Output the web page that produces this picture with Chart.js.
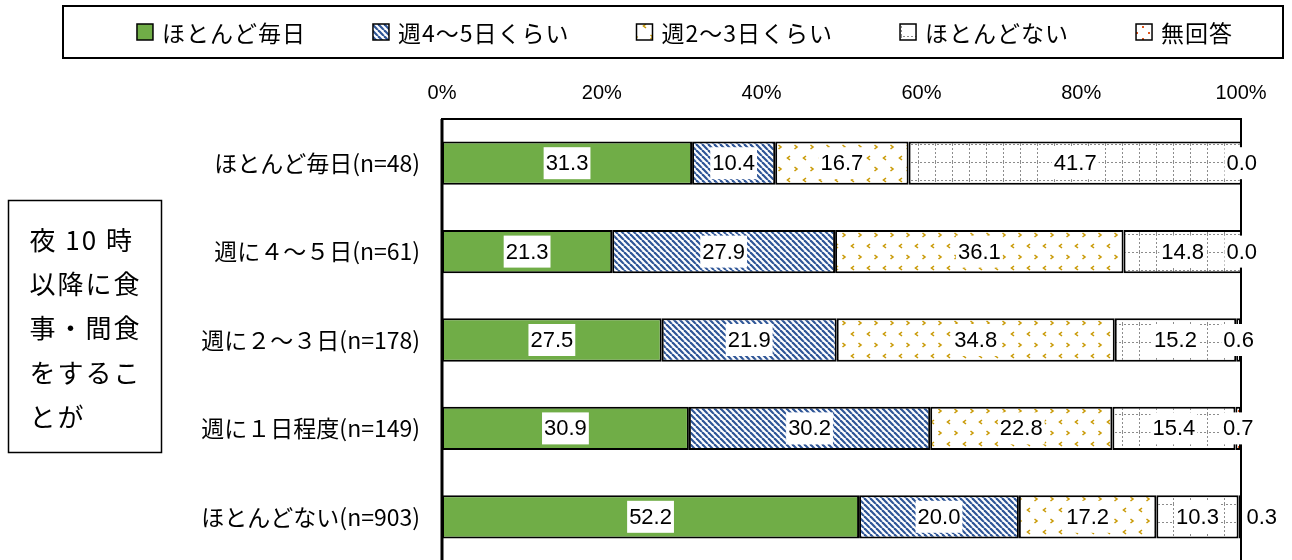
<!DOCTYPE html>
<html lang="ja">
<head>
<meta charset="utf-8">
<title>夜10時以降の食事・間食</title>
<script src="https://cdn.jsdelivr.net/npm/chart.js@4.4.1/dist/chart.umd.min.js"></script>
<style>
  html, body { margin: 0; padding: 0; background: #fff; overflow: hidden; }
  #wrap { position: relative; width: 1292px; height: 600px; }
</style>
</head>
<body>
<div id="wrap"><canvas id="c"></canvas></div>
<script>
// ---- data ----
const categories = ['ほとんど毎日(n=48)', '週に４～５日(n=61)', '週に２～３日(n=178)', '週に１日程度(n=149)', 'ほとんどない(n=903)'];
const seriesNames = ['ほとんど毎日', '週4～5日くらい', '週2～3日くらい', 'ほとんどない', '無回答'];
const almostDaily = [31.3, 21.3, 27.5, 30.9, 52.2];
const fourToFiveDays = [10.4, 27.9, 21.9, 30.2, 20.0];
const twoToThreeDays = [16.7, 36.1, 34.8, 22.8, 17.2];
const rarely = [41.7, 14.8, 15.2, 15.4, 10.3];
const noAnswer = [0.0, 0.0, 0.6, 0.7, 0.3];
const tickValues = [0, 20, 40, 60, 80, 100];
const sideTitle = ['夜 10 時', '以降に食', '事・間食', 'をするこ', 'とが'];

const JP = '"Noto Sans CJK JP", "Noto Sans", sans-serif';
const NUM = '"Liberation Sans", Arial, sans-serif';

// ---- fill patterns ----
function makePattern(w, h, draw) {
  const c = document.createElement('canvas');
  c.width = w; c.height = h;
  const g = c.getContext('2d');
  g.fillStyle = '#fff';
  g.fillRect(0, 0, w, h);
  draw(g);
  return c.getContext('2d').createPattern(c, 'repeat');
}

const solidGreen = '#70AD47';

const blueStripes = makePattern(6, 6, g => {
  g.strokeStyle = '#2E5597';
  g.lineWidth = 2.2;
  for (const off of [-6, 0, 6]) {
    g.beginPath();
    g.moveTo(off, 0);
    g.lineTo(off + 6, 6);
    g.stroke();
  }
});

const goldConfetti = makePattern(16, 22, g => {
  g.strokeStyle = '#C99A06';
  g.lineWidth = 1.6;
  g.beginPath();
  g.moveTo(6, 2); g.lineTo(3.5, 4); g.lineTo(6, 6);
  g.stroke();
  g.beginPath();
  g.moveTo(10.5, 13); g.lineTo(13, 15); g.lineTo(10.5, 17);
  g.stroke();
});

const grayDottedGrid = makePattern(17, 18, g => {
  g.fillStyle = '#8C8C8C';
  for (let y = 0; y < 18; y += 4) g.fillRect(0, y, 1, 2);
  for (let x = 2; x < 17; x += 4) g.fillRect(x, 0, 2, 1);
});

const redDots = makePattern(12, 12, g => {
  g.fillStyle = '#E2561E';
  g.fillRect(2, 2, 2, 2);
  g.fillRect(8, 8, 2, 2);
});

const fills = [solidGreen, blueStripes, goldConfetti, grayDottedGrid, redDots];
const seriesValues = [almostDaily, fourToFiveDays, twoToThreeDays, rarely, noAnswer];

// ---- plugins ----
// Boxed legend row across the top
const boxedLegend = {
  id: 'boxedLegend',
  afterDraw(chart, args, opts) {
    const ctx = chart.ctx;
    ctx.save();
    ctx.strokeStyle = '#000';
    ctx.lineWidth = 2;
    ctx.strokeRect(opts.left, opts.top, opts.width, opts.height);
    ctx.font = '23px ' + JP;
    ctx.letterSpacing = '1px';
    ctx.textBaseline = 'middle';
    const items = chart.data.datasets.map(ds => ({
      label: ds.label, fill: ds.backgroundColor,
      w: opts.box + opts.textGap + ctx.measureText(ds.label).width
    }));
    const total = items.reduce((s, it) => s + it.w, 0) + opts.gap * (items.length - 1);
    let x = opts.centerX - total / 2;
    const cy = opts.top + opts.height / 2;
    items.forEach(it => {
      ctx.fillStyle = it.fill;
      ctx.fillRect(x, cy - opts.box / 2, opts.box, opts.box);
      ctx.lineWidth = 1.5;
      ctx.strokeStyle = '#000';
      ctx.strokeRect(x, cy - opts.box / 2, opts.box, opts.box);
      ctx.fillStyle = '#000';
      ctx.fillText(it.label, x + opts.box + opts.textGap, cy + 1);
      x += it.w + opts.gap;
    });
    ctx.restore();
  }
};

// Boxed vertical caption at the left
const sideCaption = {
  id: 'sideCaption',
  afterDraw(chart, args, opts) {
    const ctx = chart.ctx;
    ctx.save();
    ctx.strokeStyle = '#000';
    ctx.lineWidth = 1.5;
    ctx.strokeRect(opts.left, opts.top, opts.width, opts.height);
    ctx.font = '26px ' + JP;
    ctx.letterSpacing = '2px';
    ctx.fillStyle = '#000';
    ctx.textBaseline = 'middle';
    sideTitle.forEach((line, i) => {
      ctx.fillText(line, opts.left + 21, opts.firstLine + i * opts.lineStep);
    });
    ctx.restore();
  }
};

// Frame round the plot area
const plotFrame = {
  id: 'plotFrame',
  afterDatasetsDraw(chart) {
    const { ctx, chartArea: a } = chart;
    ctx.save();
    ctx.strokeStyle = '#000';
    ctx.lineWidth = 2;
    ctx.strokeRect(a.left, a.top, a.right - a.left, a.bottom - a.top);
    ctx.lineWidth = 3;
    ctx.beginPath();
    ctx.moveTo(a.left, a.top);
    ctx.lineTo(a.left, a.bottom);
    ctx.stroke();
    ctx.restore();
  }
};

// Value labels on white boxes, centred on each segment
const valueLabels = {
  id: 'valueLabels',
  afterDatasetsDraw(chart, args, opts) {
    const ctx = chart.ctx;
    ctx.save();
    ctx.font = '22px ' + NUM;
    ctx.textAlign = 'center';
    ctx.textBaseline = 'middle';
    chart.data.datasets.forEach((ds, di) => {
      chart.getDatasetMeta(di).data.forEach((bar, i) => {
        const text = ds.data[i].toFixed(1);
        const nudge = (opts.nudge[di] && opts.nudge[di][i]) || 0;
        const cx = (bar.x + bar.base) / 2 + nudge;
        const cy = bar.y;
        const w = ctx.measureText(text).width + 4;
        ctx.fillStyle = '#fff';
        ctx.fillRect(cx - w / 2, cy - 16, w, 32);
        ctx.fillStyle = '#000';
        ctx.fillText(text, cx, cy + 1);
      });
    });
    ctx.restore();
  }
};

// ---- chart ----
new Chart(document.getElementById('c'), {
  type: 'bar',
  data: {
    labels: categories,
    datasets: seriesNames.map((name, k) => ({
      label: name,
      data: seriesValues[k],
      backgroundColor: fills[k],
      borderColor: '#000',
      borderWidth: 2,
      borderSkipped: false,
      categoryPercentage: 1,
      barPercentage: 0.49
    }))
  },
  options: {
    indexAxis: 'y',
    responsive: true,
    maintainAspectRatio: false,
    animation: false,
    layout: { padding: { top: 70, left: 62, right: 51, bottom: 39 } },
    plugins: {
      legend: { display: false },
      tooltip: { enabled: false },
      boxedLegend: { left: 63, top: 6, width: 1220, height: 52, centerX: 685, box: 16, textGap: 9, gap: 67 },
      sideCaption: { left: 8.5, top: 200.5, width: 153, height: 252, firstLine: 240, lineStep: 44.3 },
      valueLabels: { nudge: { 4: { 4: 22 } } }
    },
    scales: {
      x: {
        position: 'top',
        stacked: true,
        min: 0,
        max: 100,
        afterBuildTicks(scale) { scale.ticks = tickValues.map(v => ({ value: v })); },
        grid: { display: false, drawTicks: false },
        border: { display: false },
        ticks: {
          padding: 14,
          color: '#000',
          font: { size: 20, family: NUM },
          callback: v => v + '%'
        },
        afterFit(scale) { scale.height = 49; }
      },
      y: {
        stacked: true,
        grid: { display: false, drawTicks: false },
        border: { display: false },
        ticks: { padding: 22, color: '#000', font: { size: 23, family: JP } },
        afterFit(scale) { scale.width = 380; }
      }
    }
  },
  plugins: [boxedLegend, sideCaption, plotFrame, valueLabels]
});
</script>
</body>
</html>
